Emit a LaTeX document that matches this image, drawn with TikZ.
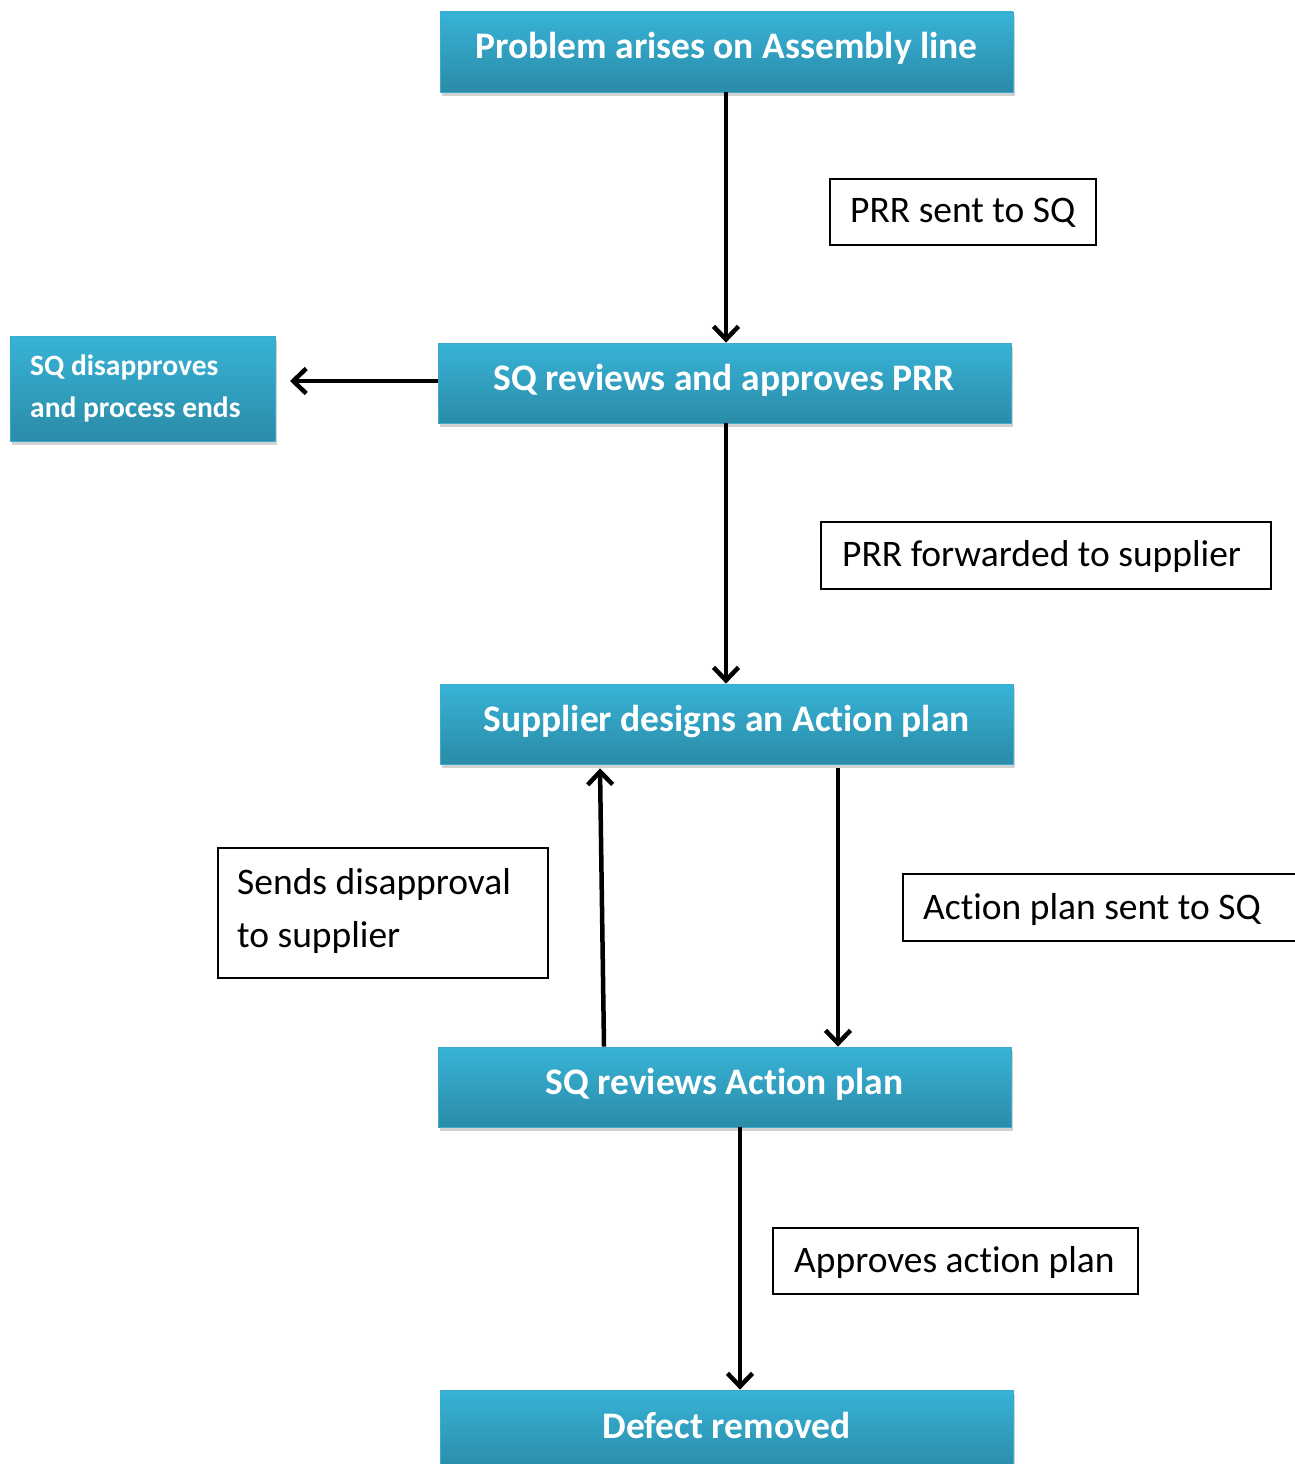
\documentclass[tikz,border=0pt]{standalone}
\usepackage{fontspec}
\setmainfont{Carlito}[Ligatures=CommonOff]
\usetikzlibrary{arrows.meta,shadows,calc}
\definecolor{btop}{RGB}{56,179,215}
\definecolor{bbot}{RGB}{42,139,167}
\definecolor{bedge}{RGB}{60,170,205}
\tikzset{
  flowbox/.style={rectangle, top color=btop, bottom color=bbot, draw=bedge, line width=0.8pt,
    minimum width=573pt, minimum height=80pt, inner sep=0pt, text=white,
    text height=28pt, text depth=14pt,
    font=\fontsize{37.5}{44}\selectfont\bfseries,
    drop shadow={opacity=0.35, shadow xshift=2pt, shadow yshift=-4pt}},
  sidebox/.style={flowbox, minimum width=265pt, minimum height=105pt},
  sidetext/.style={font=\fontsize{29.5}{42}\selectfont\bfseries, text=white, anchor=west, align=left, inner sep=0pt},
  lab/.style={rectangle, draw=black, line width=1.6pt, inner sep=0pt, anchor=north west},
  labtext/.style={font=\fontsize{37.5}{53}\selectfont, anchor=west, align=left, inner sep=0pt},
  arr/.style={line width=4.5pt, -{Straight Barb[length=13pt,width=25pt,line width=4.5pt]}}
}
\begin{document}
\begin{tikzpicture}[x=1pt,y=-1pt]
\useasboundingbox (0,0) rectangle (1295,1464);
\clip (0,0) rectangle (1295,1464);
\fill[white] (0,0) rectangle (1295,1464);
% main boxes
\node[flowbox] (b1) at (726.5,52) {Problem arises on Assembly line};
\node[flowbox] (b2) at (724.5,383) {SQ reviews and approves PRR};
\node[flowbox] (b3) at (726.5,724) {Supplier designs an Action plan};
\node[flowbox] (b4) at (724.5,1087) {SQ reviews Action plan};
\node[flowbox] (b5) at (726.5,1430) {};
\node[font=\fontsize{37.5}{44}\selectfont\bfseries, text=white] (b5t) at (726.5,1425) {Defect removed};
\node[sidebox] (s1) at (142.5,388.5) {};
\node[sidetext] (s1t) at (30,388) {SQ disapproves\\and process ends};
% labels
\node[lab, minimum width=266pt, minimum height=66pt] (l1) at (829,178) {};
\node[labtext] (l1t) at (850,213) {PRR sent to SQ};
\node[lab, minimum width=450pt, minimum height=67pt] (l2) at (820,521) {};
\node[labtext] (l2t) at (842,556) {PRR forwarded to supplier};
\node[lab, minimum width=330pt, minimum height=130pt] (l3) at (217,847) {};
\node[labtext] (l3t) at (237,911) {Sends disapproval\\to supplier};
\node[lab, minimum width=420pt, minimum height=67pt] (l4) at (902,873) {};
\node[labtext] (l4t) at (923,909) {Action plan sent to SQ};
\node[lab, minimum width=365pt, minimum height=66pt] (l5) at (772,1227) {};
\node[labtext] (l5t) at (794,1262) {Approves action plan};
% connectors
\coordinate (c1) at (726,0);
\coordinate (c2) at (838,0);
\coordinate (c3) at (740,0);
\coordinate (lt) at (290,381);
\draw[arr] (b1.south -| c1) -- (b2.north -| c1);
\draw[arr] (b2.south -| c1) -- (b3.north -| c1);
\draw[arr] (b2.west |- lt) -- (lt);
\draw[arr] ($(b3.south -| c2)+(0,4)$) -- (b4.north -| c2);
\draw[arr] ($(b4.north -| c1)+(-122,0)$) -- ($(b3.south -| c1)+(-126,4)$);
\draw[arr] (b4.south -| c3) -- (b5.north -| c3);
\end{tikzpicture}
\end{document}
